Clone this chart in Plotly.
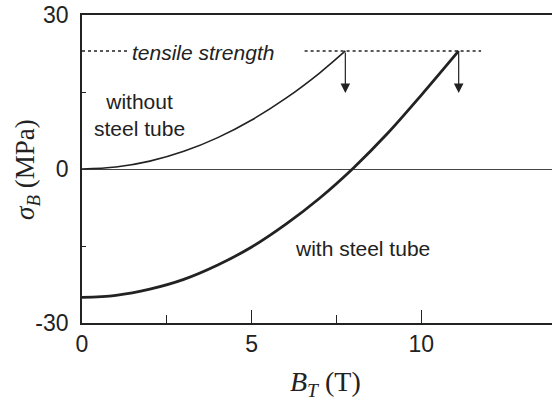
import plotly.graph_objects as go

# Data
bt_without = [0, 1, 2, 3, 4, 5, 6, 7, 7.76]
sig_without = [0, 0.38, 1.53, 3.44, 6.11, 9.55, 13.75, 18.7, 23.0]
bt_with = [0, 1, 2, 3, 4, 5, 6, 7, 8, 9, 10, 11.1]
sig_with = [-25, -24.6, -23.4, -21.5, -18.7, -15.2, -10.8, -5.7, 0.2, 6.9, 14.4, 23.0]
tensile = 23.0
tensile_seg1 = [0, 1.35]
tensile_seg2 = [6.56, 11.76]
arrow_x = [7.76, 11.1]
arrow_tip = 14.8
x_ticks = [0, 5, 10]
x_ticktext = ["0", "5", "10"]
x_minor = [2.5, 7.5]
y_ticks = [-30, 0, 30]
y_ticktext = ["-30", "0", "30"]
y_minor = [-15, 15]

ink = "#222222"
sans = "Liberation Sans, Arial"
serif = "Liberation Serif, Times New Roman"

fig = go.Figure()
fig.add_trace(go.Scatter(x=bt_without, y=sig_without, mode="lines",
                         line=dict(color=ink, width=1.6, shape="spline"), showlegend=False))
fig.add_trace(go.Scatter(x=bt_with, y=sig_with, mode="lines",
                         line=dict(color=ink, width=2.8, shape="spline"), showlegend=False))
for seg in (tensile_seg1, tensile_seg2):
    fig.add_trace(go.Scatter(x=seg, y=[tensile, tensile], mode="lines",
                             line=dict(color=ink, width=1.6, dash="dot"), showlegend=False))

for ax_ in arrow_x:
    fig.add_annotation(x=ax_, y=arrow_tip, ax=ax_, ay=tensile, xref="x", yref="y",
                       axref="x", ayref="y", text="", showarrow=True,
                       arrowhead=2, arrowsize=1.6, arrowwidth=1.2, arrowcolor=ink)

fig.add_annotation(x=1.41, y=tensile - 0.3, text="<i>tensile strength</i>", showarrow=False,
                   xanchor="left", yanchor="middle",
                   font=dict(family=sans, size=21, color=ink))
fig.add_annotation(x=1.69, y=10.6, text="without<br>steel tube", showarrow=False,
                   xanchor="center", yanchor="middle", align="center",
                   font=dict(family=sans, size=21, color=ink))
fig.add_annotation(x=8.26, y=-15.4, text="with steel tube", showarrow=False,
                   xanchor="center", yanchor="middle",
                   font=dict(family=sans, size=21, color=ink))

# axis titles
fig.add_annotation(x=-0.117, y=0.497, xref="paper", yref="paper",
                   text="<i>σ<sub>B</sub></i> (MPa)", textangle=-90, showarrow=False,
                   xanchor="center", yanchor="middle",
                   font=dict(family=serif, size=27, color=ink))
fig.add_annotation(x=0.519, y=-0.198, xref="paper", yref="paper",
                   text="<i>B<sub>T</sub></i> (T)", showarrow=False,
                   xanchor="center", yanchor="middle",
                   font=dict(family=serif, size=28, color=ink))

fig.update_layout(
    width=552, height=399,
    margin=dict(l=82, r=0, t=15, b=76),
    plot_bgcolor="white", paper_bgcolor="white",
    font=dict(family=sans, size=23, color=ink),
    xaxis=dict(range=[0, 13.85], tickvals=x_ticks, ticktext=x_ticktext, ticks="inside",
               ticklen=13, tickwidth=1.3, tickcolor=ink, showline=True, linecolor=ink,
               linewidth=1.5, mirror=True, showgrid=False, zeroline=False,
               minor=dict(tickvals=x_minor, ticks="inside", ticklen=8, tickcolor=ink, tickwidth=1.3)),
    yaxis=dict(range=[-30, 30], tickvals=y_ticks, ticktext=y_ticktext, ticks="",
               ticklabelstandoff=7,
               showline=True, linecolor=ink, linewidth=1.8, showgrid=False, zeroline=True,
               zerolinecolor="#444444", zerolinewidth=1,
               minor=dict(tickvals=y_minor, ticks="inside", ticklen=4, tickcolor=ink, tickwidth=1.3)),
)

fig.write_html("out.html")
